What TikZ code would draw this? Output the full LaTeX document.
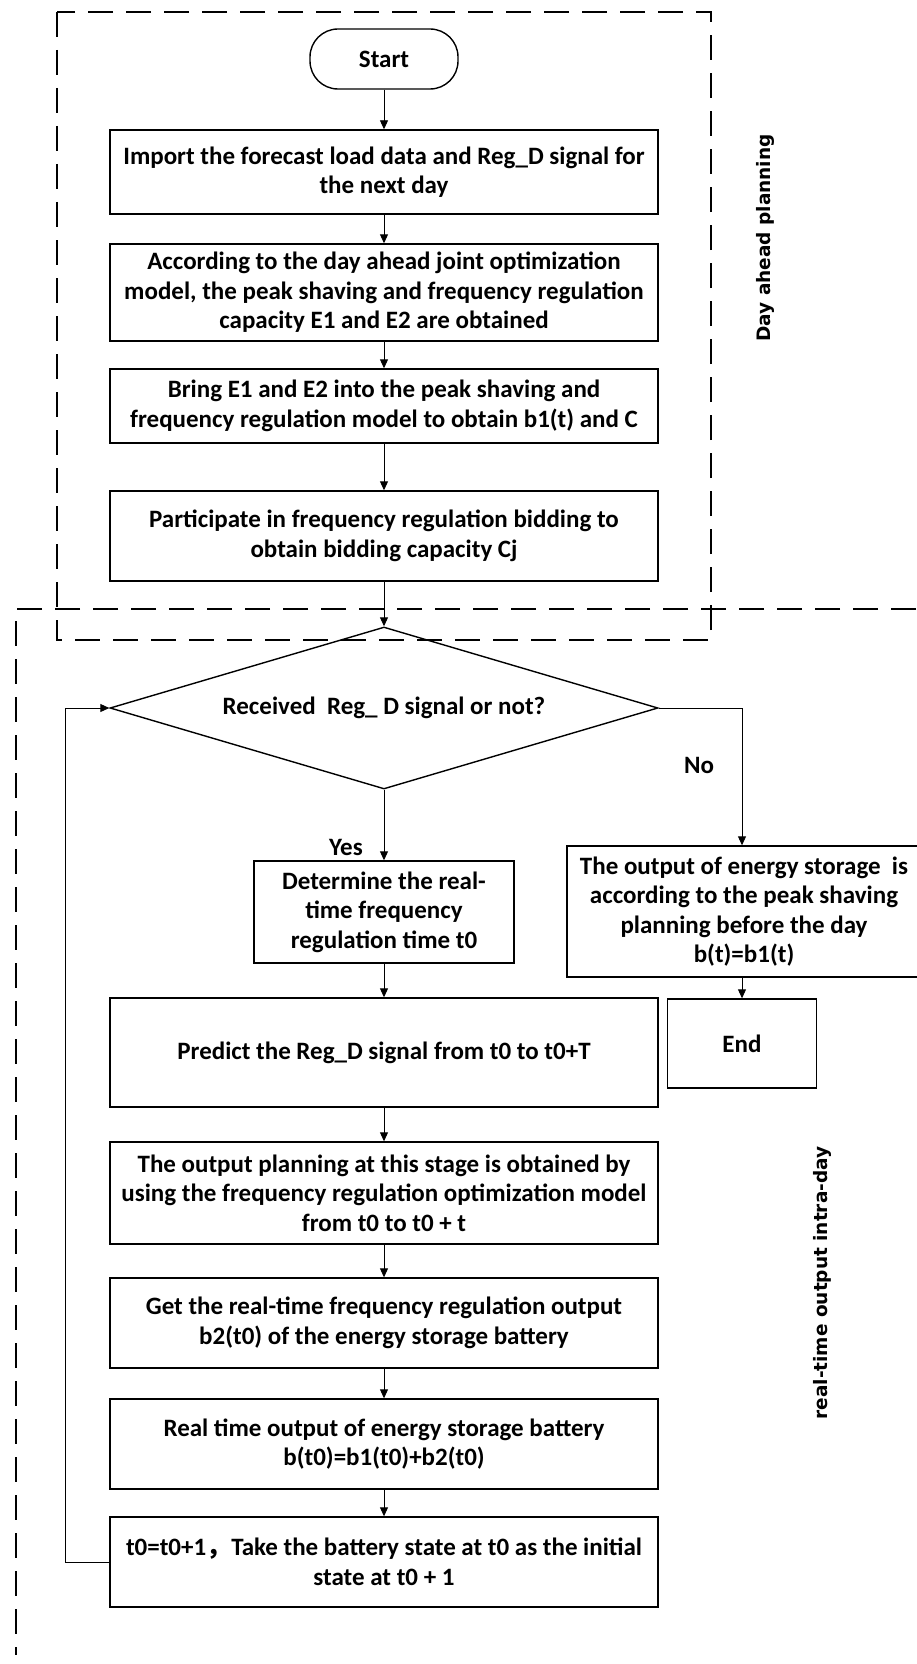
\documentclass[tikz,border=0pt]{standalone}
\usepackage{fontspec}
\setmainfont{Carlito}
\newfontfamily\lblfont{DejaVu Sans}
\newfontfamily\cjkfont{Noto Sans CJK SC}
\usetikzlibrary{arrows.meta,shapes.geometric}
\begin{document}
\begin{tikzpicture}[x=1pt,y=-1pt,
  txt/.style={font=\bfseries\fontsize{25}{29.5}\selectfont},
  box/.style={draw,line width=1.4pt,rectangle,minimum width=548pt,inner sep=0pt,align=center,txt},
  conn/.style={line width=0.9pt,-{Triangle[length=9pt,width=8pt]}},
  frame/.style={line width=1.2pt,dash pattern=on 25pt off 13pt},
  lbl/.style={font=\lblfont\bfseries\fontsize{18.5}{22}\selectfont,rotate=90}]
\useasboundingbox (0,0) rectangle (916,1664);
% dashed frames
\draw[frame] (57,12) rectangle (711,640);
\draw[frame] (916,609) -- (16,609) -- (16,1655);
% nodes
\node[draw,line width=1.4pt,rounded corners=28pt,minimum width=148pt,minimum height=60pt,inner sep=0pt,txt] (start) at (384,59) {Start};
\node[box,minimum height=84pt] (b1) at (384,172) {Import the forecast load data and Reg\_D signal for\\the next day};
\node[box,minimum height=97pt] (b2) at (384,292.5) {According to the day ahead joint optimization\\model, the peak shaving and frequency regulation\\capacity E1 and E2 are obtained};
\node[box,minimum height=74pt] (b3) at (384,406) {Bring E1 and E2 into the peak shaving and\\frequency regulation model to obtain b1(t) and C};
\node[box,minimum height=90pt] (b4) at (384,536) {Participate in frequency regulation bidding to\\obtain bidding capacity Cj};
\node[draw,diamond,line width=1.4pt,minimum width=548pt,minimum height=162pt,inner sep=0pt,shape aspect=3.4,txt] (dec) at (384,708) {Received\ \ Reg\_ D signal or not?};
\node[box,minimum width=260pt,minimum height=102pt] (det) at (384,912) {Determine the real-\\time frequency\\regulation time t0};
\node[box,minimum width=354pt,minimum height=131pt] (rbox) at (744,911.5) {The output of energy storage\ \ is\\according to the peak shaving\\planning before the day\\b(t)=b1(t)};
\node[box,minimum width=149pt,minimum height=89pt] (endb) at (742,1043.5) {End};
\node[box,minimum height=109pt] (pred) at (384,1052.5) {Predict the Reg\_D signal from t0 to t0+T};
\node[box,minimum height=102pt] (plan) at (384,1193) {The output planning at this stage is obtained by\\using the frequency regulation optimization model\\from t0 to t0 + t};
\node[box,minimum height=90pt] (get) at (384,1323) {Get the real-time frequency regulation output\\b2(t0) of the energy storage battery};
\node[box,minimum height=90pt] (rt) at (384,1444) {Real time output of energy storage battery\\b(t0)=b1(t0)+b2(t0)};
\node[box,minimum height=90pt] (t0) at (384,1562) {t0=t0+1{\cjkfont ，}Take the battery state at t0 as the initial\\state at t0 + 1};
\node[txt] (yes) at (346,847) {Yes};
\node[txt] (no) at (699,765) {No};
\node[lbl] (lab1) at (765,238) {Day ahead planning};
\node[lbl] (lab2) at (822,1283) {real-time output intra-day};
\coordinate (loopx) at (65,0);
\coordinate (nox) at (742,0);
% connectors
\draw[conn] (start.south) -- (b1.north);
\draw[conn] (b1.south) -- (b2.north);
\draw[conn] (b2.south) -- (b3.north);
\draw[conn] (b3.south) -- (b4.north);
\draw[conn] (b4.south) -- (dec.north);
\draw[conn] (dec.south) -- (det.north);
\draw[conn] (dec.east) -- (dec.east -| nox) -- (rbox.north -| nox);
\draw[conn] (rbox.south -| endb.north) -- (endb.north);
\draw[conn] (det.south) -- (pred.north);
\draw[conn] (pred.south) -- (plan.north);
\draw[conn] (plan.south) -- (get.north);
\draw[conn] (get.south) -- (rt.north);
\draw[conn] (rt.south) -- (t0.north);
\draw[conn] (t0.west) -- (t0.west -| loopx) |- (dec.west);
\end{tikzpicture}
\end{document}
